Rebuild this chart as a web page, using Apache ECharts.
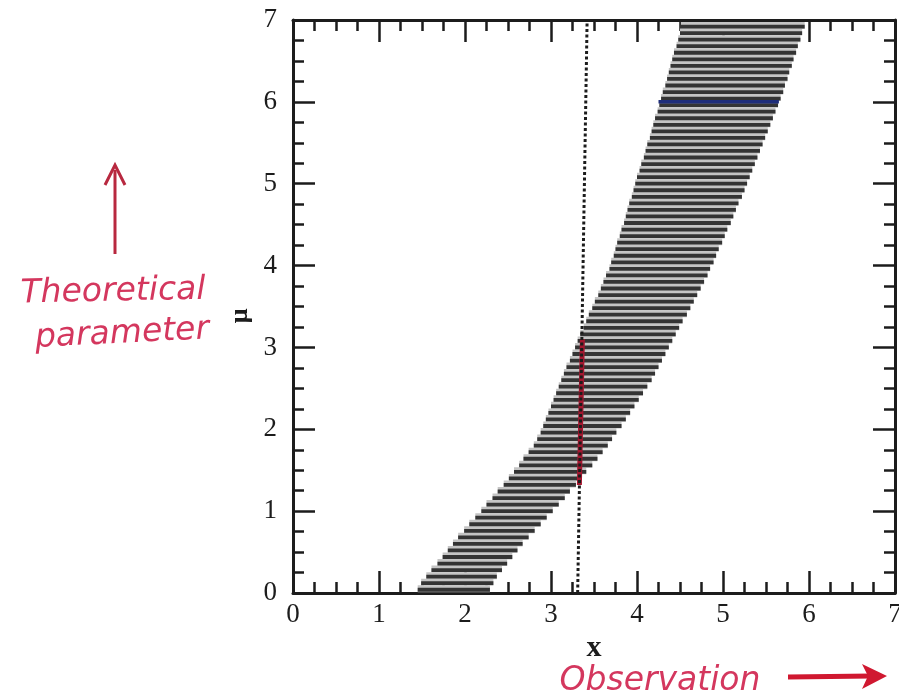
<!DOCTYPE html>
<html>
<head>
<meta charset="utf-8">
<script src="https://cdn.jsdelivr.net/npm/echarts@6/dist/echarts.min.js"></script>
<style>html,body{margin:0;padding:0;background:#fff}#c{width:899px;height:695px}</style>
</head>
<body>
<div id="c"></div>
<script>
// Belt rows: each horizontal segment at MU[i] spans X_LEFT[i] .. X_RIGHT[i]
const MU = [0.04,0.12,0.20,0.28,0.36,0.44,0.52,0.60,0.68,0.76,0.84,0.92,1.00,1.08,1.16,1.24,1.32,1.40,1.48,1.56,1.64,1.72,1.80,1.88,1.96,2.04,2.12,2.20,2.28,2.36,2.44,2.52,2.60,2.68,2.76,2.84,2.92,3.00,3.08,3.16,3.24,3.32,3.40,3.48,3.56,3.64,3.72,3.80,3.88,3.96,4.04,4.12,4.20,4.28,4.36,4.44,4.52,4.60,4.68,4.76,4.84,4.92,5.00,5.08,5.16,5.24,5.32,5.40,5.48,5.56,5.64,5.72,5.80,5.88,5.96,6.04,6.12,6.20,6.28,6.36,6.44,6.52,6.60,6.68,6.76,6.84,6.92];
const X_LEFT = [1.45,1.49,1.55,1.61,1.68,1.74,1.80,1.86,1.92,1.99,2.05,2.12,2.19,2.25,2.32,2.38,2.45,2.51,2.57,2.63,2.68,2.74,2.80,2.84,2.88,2.91,2.94,2.97,3.00,3.03,3.06,3.09,3.12,3.15,3.18,3.22,3.25,3.28,3.31,3.34,3.38,3.41,3.44,3.48,3.51,3.55,3.58,3.61,3.64,3.68,3.70,3.73,3.75,3.77,3.80,3.82,3.85,3.87,3.89,3.91,3.94,3.96,3.98,4.00,4.03,4.05,4.08,4.10,4.12,4.15,4.17,4.19,4.21,4.24,4.26,4.28,4.30,4.33,4.35,4.37,4.39,4.41,4.43,4.46,4.48,4.50,4.51];
const X_RIGHT = [2.29,2.33,2.37,2.43,2.49,2.55,2.61,2.67,2.74,2.81,2.88,2.95,3.02,3.09,3.16,3.22,3.29,3.35,3.41,3.48,3.54,3.60,3.66,3.71,3.76,3.82,3.87,3.92,3.97,4.02,4.07,4.12,4.17,4.21,4.25,4.29,4.33,4.37,4.41,4.45,4.49,4.53,4.58,4.62,4.66,4.70,4.74,4.78,4.82,4.85,4.89,4.92,4.95,4.99,5.02,5.05,5.09,5.12,5.15,5.18,5.22,5.25,5.28,5.31,5.34,5.37,5.40,5.43,5.46,5.49,5.52,5.55,5.58,5.61,5.64,5.67,5.70,5.72,5.75,5.77,5.80,5.82,5.85,5.87,5.90,5.92,5.95];

// observation line (dotted, slightly tilted in the scan)
const OBS_LINE = [[3.31, 0], [3.42, 7]];
// confidence interval on the observation line (red)
const OBS_INTERVAL = [[3.33, 1.32], [3.365, 3.10]];
// highlighted acceptance interval at mu = 6 (blue)
const MU6_INTERVAL = [[4.25, 6.0], [5.65, 6.0]];

const AXIS_MIN = 0, AXIS_MAX = 7, AXIS_STEP = 1;

const beltData = MU.map((m, i) => [m, X_LEFT[i], X_RIGHT[i]]);

const chart = echarts.init(document.getElementById('c'), null, {renderer: 'canvas'});

const serif = '"Liberation Serif", "DejaVu Serif", serif';
const hand = 'italic 33px "DejaVu Sans", sans-serif';
const axisCommon = {
  type: 'value', min: AXIS_MIN, max: AXIS_MAX, interval: AXIS_STEP,
  axisLine: {show: true, onZero: false, lineStyle: {color: '#1c1c1c', width: 3}},
  axisTick: {show: true, inside: true, length: 22, lineStyle: {color: '#1c1c1c', width: 2.5}},
  minorTick: {show: true, splitNumber: 4, length: 11, lineStyle: {color: '#1c1c1c', width: 2.5}},
  splitLine: {show: false},
  minorSplitLine: {show: false}
};

const option = {
  animation: false,
  backgroundColor: '#ffffff',
  grid: {left: 293, right: 4, top: 20, bottom: 102, containLabel: false, outerBoundsMode: 'none'},
  xAxis: [
    Object.assign({}, axisCommon, {
      position: 'bottom',
      name: 'x', nameLocation: 'middle', nameGap: 30,
      nameTextStyle: {fontFamily: serif, fontSize: 30, fontWeight: 'bold', color: '#1c1c1c'},
      axisLabel: {show: true, margin: 8, fontFamily: serif, fontSize: 27, color: '#1c1c1c'}
    }),
    Object.assign({}, axisCommon, {position: 'top', axisLabel: {show: false}})
  ],
  yAxis: [
    Object.assign({}, axisCommon, {
      position: 'left',
      axisLabel: {show: true, margin: 16, fontFamily: serif, fontSize: 27, color: '#1c1c1c'}
    }),
    Object.assign({}, axisCommon, {position: 'right', axisLabel: {show: false}})
  ],
  series: [
    {
      type: 'custom',
      name: 'belt',
      xAxisIndex: 0, yAxisIndex: 0,
      data: beltData,
      encode: {x: [1, 2], y: 0},
      renderItem: function (params, api) {
        const p1 = api.coord([api.value(1), api.value(0)]);
        const p2 = api.coord([api.value(2), api.value(0)]);
        return {
          type: 'group',
          children: [
            {type: 'line', shape: {x1: p1[0], y1: p1[1] - 1, x2: p2[0], y2: p2[1] - 1},
             style: {stroke: '#c4c4c4', lineWidth: 7}},
            {type: 'line', shape: {x1: p1[0], y1: p1[1], x2: p2[0], y2: p2[1]},
             style: {stroke: '#343434', lineWidth: 3.8}}
          ]
        };
      },
      z: 2
    },
    {
      type: 'line', name: 'mu6', data: MU6_INTERVAL, symbol: 'none',
      lineStyle: {color: '#1e2d7a', width: 3.5}, z: 3
    },
    {
      type: 'line', name: 'interval', data: OBS_INTERVAL, symbol: 'none',
      lineStyle: {color: '#a3172f', width: 5}, z: 4
    },
    {
      type: 'line', name: 'obs', data: OBS_LINE, symbol: 'none',
      lineStyle: {color: '#1c1c1c', width: 3, type: [3, 2.5]}, z: 5
    }
  ],
  graphic: [
    {type: 'text', x: 240, y: 316, rotation: Math.PI / 2,
     style: {text: 'μ', font: 'bold 26px ' + serif, fill: '#1c1c1c', align: 'center', verticalAlign: 'middle'}},
    // handwritten-style annotations
    {type: 'text', x: 113, y: 292, rotation: 0.02,
     style: {text: 'Theoretical', font: hand, fill: '#d4375e', align: 'center', verticalAlign: 'middle'}},
    {type: 'text', x: 122, y: 334, rotation: 0.05,
     style: {text: 'parameter', font: hand, fill: '#d4375e', align: 'center', verticalAlign: 'middle'}},
    {type: 'line', shape: {x1: 115, y1: 254, x2: 115, y2: 170}, style: {stroke: '#b8283f', lineWidth: 3}},
    {type: 'polyline', shape: {points: [[105, 185], [115, 165], [125, 185]]}, style: {stroke: '#b8283f', lineWidth: 3, fill: null}},
    {type: 'text', x: 660, y: 681,
     style: {text: 'Observation', font: hand, fill: '#d4375e', align: 'center', verticalAlign: 'middle'}},
    {type: 'line', shape: {x1: 788, y1: 677, x2: 872, y2: 676}, style: {stroke: '#d01830', lineWidth: 5}},
    {type: 'polygon', shape: {points: [[862, 664], [887, 676], [862, 689], [868, 676]]}, style: {fill: '#d01830'}}
  ]
};
chart.setOption(option);
</script>
</body>
</html>
